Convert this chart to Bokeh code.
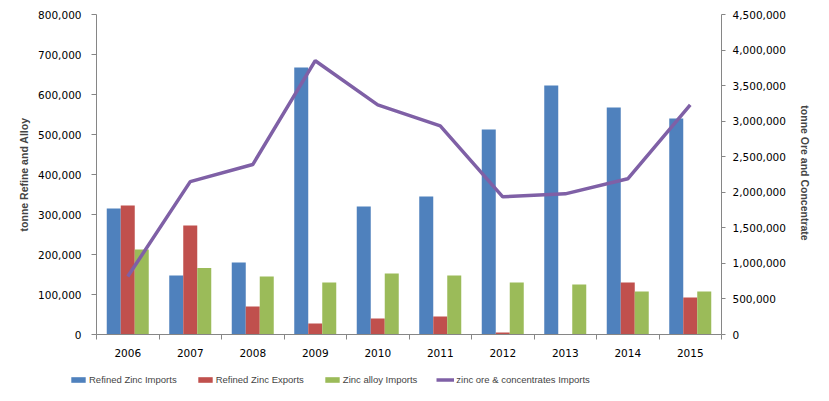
import numpy as np
from bokeh.plotting import figure
from bokeh.models import (LinearAxis, Range1d, FixedTicker, NumeralTickFormatter,
                          Legend, LegendItem, ColumnDataSource)
from bokeh.embed import file_html
from bokeh.resources import INLINE

years = ["2006", "2007", "2008", "2009", "2010", "2011", "2012", "2013", "2014", "2015"]
refined_imports = [315000, 147500, 180000, 667500, 320000, 345000, 512500, 622500, 567500, 540000]
refined_exports = [322500, 272500, 70000, 27500, 40000, 45000, 5000, 0, 130000, 92500]
alloy_imports = [212500, 166000, 145000, 130000, 152500, 147500, 130000, 125000, 107500, 107500]
ore_imports = [815000, 2150000, 2390000, 3850000, 3230000, 2935000, 1936000, 1978000, 2190000, 3230000]

left_ticks = [0, 100000, 200000, 300000, 400000, 500000, 600000, 700000, 800000]
right_ticks = [0, 500000, 1000000, 1500000, 2000000, 2500000, 3000000, 3500000, 4000000, 4500000]

series_names = ["Refined Zinc Imports", "Refined Zinc Exports", "Zinc alloy Imports",
                "zinc ore & concentrates Imports"]
colors = ["#4F81BD", "#C0504D", "#9BBB59", "#7F60A6"]

n = len(years)
xc = np.arange(n) + 0.5
bw = 0.224

src = ColumnDataSource(dict(
    xb=xc - bw, xr=xc, xg=xc + bw,
    imp=refined_imports, exp=refined_exports, alloy=alloy_imports,
    xl=xc, ore=ore_imports,
))

p = figure(width=813, height=360, output_backend="svg", toolbar_location=None,
           x_range=Range1d(0, n), y_range=Range1d(0, 800000),
           min_border_left=96, min_border_right=91, min_border_top=14, min_border_bottom=26)
p.extra_y_ranges = {"ore": Range1d(0, 4500000)}
p.outline_line_color = None
p.xgrid.visible = False
p.ygrid.visible = False

p.vbar(x="xb", top="imp", width=bw, source=src, fill_color=colors[0], line_color=None)
p.vbar(x="xr", top="exp", width=bw, source=src, fill_color=colors[1], line_color=None)
p.vbar(x="xg", top="alloy", width=bw, source=src, fill_color=colors[2], line_color=None)
p.line(x="xl", y="ore", source=src, y_range_name="ore", line_color=colors[3], line_width=3.5)

axis_color = "#868686"
tick_font = "DejaVu Sans"

# x axis
xa = p.xaxis[0]
xa.ticker = FixedTicker(ticks=list(xc), minor_ticks=list(range(n + 1)))
xa.major_label_overrides = {float(x): y for x, y in zip(xc, years)}
xa.major_tick_line_color = None
xa.minor_tick_out = 5
xa.minor_tick_in = 0
xa.minor_tick_line_color = axis_color
xa.axis_line_color = axis_color
xa.major_label_standoff = 8
xa.major_label_text_font = tick_font
xa.major_label_text_font_size = "10.5px"
xa.major_label_text_color = "black"

# left axis
ya = p.yaxis[0]
ya.ticker = FixedTicker(ticks=left_ticks)
ya.formatter = NumeralTickFormatter(format="0,0")
ya.major_tick_out = 5
ya.major_tick_in = 0
ya.minor_tick_line_color = None
ya.major_tick_line_color = axis_color
ya.axis_line_color = axis_color
ya.major_label_standoff = 10
ya.major_label_text_font = tick_font
ya.major_label_text_font_size = "10.5px"
ya.major_label_text_color = "black"
ya.axis_label = "tonne Refine and Alloy"
ya.axis_label_text_font = "Liberation Sans"
ya.axis_label_text_font_style = "bold"
ya.axis_label_text_font_size = "10.5px"
ya.axis_label_standoff = 5

# right axis
ra = LinearAxis(y_range_name="ore", ticker=FixedTicker(ticks=right_ticks),
                formatter=NumeralTickFormatter(format="0,0"))
ra.major_tick_out = 4
ra.major_tick_in = 0
ra.minor_tick_line_color = None
ra.major_tick_line_color = axis_color
ra.axis_line_color = axis_color
ra.major_label_standoff = 7
ra.major_label_text_font = tick_font
ra.major_label_text_font_size = "10.5px"
ra.major_label_text_color = "black"
ra.axis_label = "tonne  Ore and Concentrate"
ra.axis_label_text_font = "Liberation Sans"
ra.axis_label_text_font_style = "bold"
ra.axis_label_text_font_size = "10.5px"
ra.axis_label_standoff = 10
p.add_layout(ra, "right")

# legend strip (separate small figure below the chart, its own root)
lg = figure(width=813, height=25, output_backend="svg", toolbar_location=None,
            x_range=Range1d(0, 1), y_range=Range1d(0, 1),
            min_border_left=0, min_border_right=0, min_border_top=0, min_border_bottom=0)
lg.axis.visible = False
lg.grid.visible = False
lg.outline_line_color = None
l1 = lg.vbar(x=[5], top=[5], width=0.1, fill_color=colors[0], line_color=None)
l2 = lg.vbar(x=[5], top=[5], width=0.1, fill_color=colors[1], line_color=None)
l3 = lg.vbar(x=[5], top=[5], width=0.1, fill_color=colors[2], line_color=None)
l4 = lg.line(x=[5, 6], y=[5, 6], line_color=colors[3], line_width=3.5)

legend = Legend(items=[LegendItem(label=nm, renderers=[r])
                       for nm, r in zip(series_names, [l1, l2, l3, l4])],
                orientation="horizontal", location=(69, 0), spacing=19, padding=0, margin=0,
                glyph_width=18, glyph_height=7, label_standoff=2,
                label_text_font="Liberation Sans", label_text_font_size="9.5px",
                border_line_color=None, background_fill_alpha=0)
lg.add_layout(legend, "center")

open("out.html", "w").write(file_html([p, lg], INLINE))
